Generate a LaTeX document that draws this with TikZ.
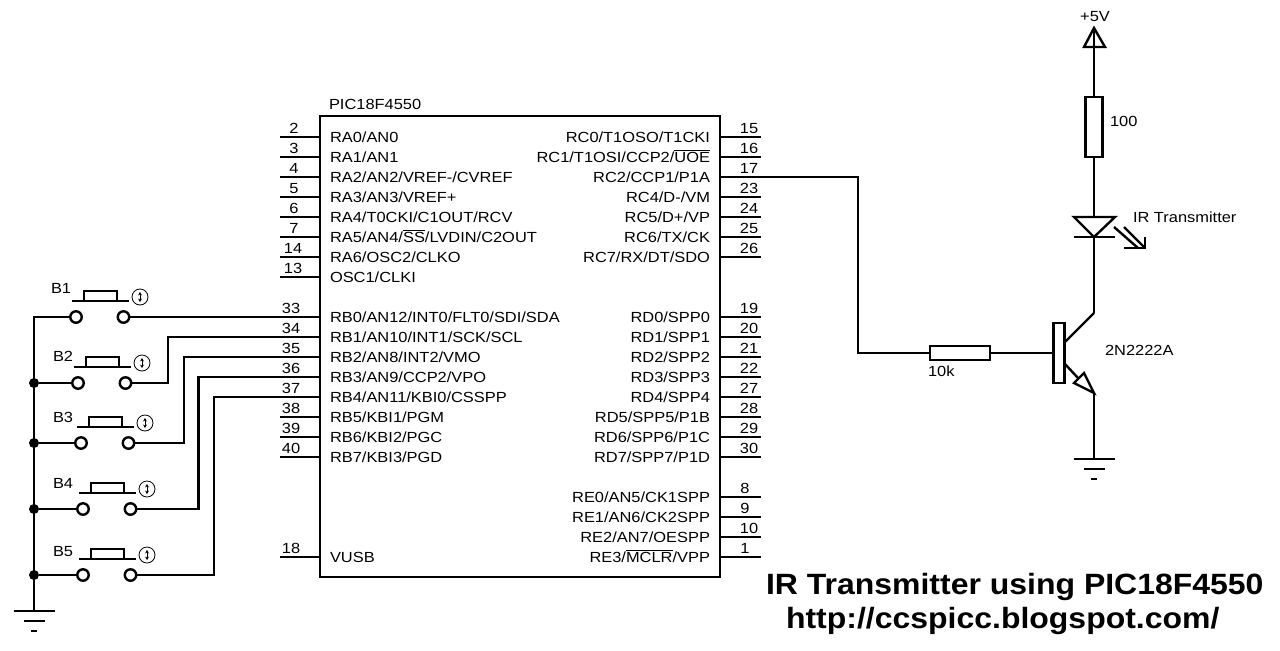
\documentclass[tikz,border=0pt]{standalone}
\usepackage{fontspec}
\setmainfont[FakeStretch=1.12]{Liberation Sans}
\newfontfamily\titlefont[FakeStretch=1.09]{Liberation Sans}
\usetikzlibrary{calc,arrows.meta}
\def\ovl#1{\setbox0\hbox{#1}\rlap{\vrule width\wd0 height 8.8pt depth -8.3pt}\box0}
\tikzset{
  wire/.style={line width=1.8pt,line join=miter},
  lbl/.style={inner sep=0pt,outer sep=0pt,font=\fontsize{11pt}{12pt}\selectfont},
  pinno/.style={lbl,anchor=base},
  pinl/.style={lbl,anchor=base west},
  pinr/.style={lbl,anchor=base east},
  box/.style={draw,line width=1.8pt,fill=white,inner sep=0pt,outer sep=0pt,rectangle},
  term/.style={draw,line width=1.8pt,fill=white,circle,inner sep=0pt,outer sep=0pt,minimum size=8.6pt},
  ind/.style={draw,line width=0.6pt,fill=white,circle,inner sep=0pt,outer sep=0pt,minimum size=12pt},
  dot/.style={fill=black,circle,inner sep=0pt,outer sep=0pt,minimum size=7.5pt},
  titletxt/.style={inner sep=0pt,outer sep=0pt,anchor=base west,font=\titlefont\bfseries\fontsize{22pt}{24pt}\selectfont}
}
\newcommand\lpin[4]{%
  \coordinate (a#1) at (280,#2);
  \coordinate (A#1) at (320,#2);
  \draw[wire] (a#1) -- (A#1);
  \node[pinno] (na#1) at (#4,#2-4) {#1};
  \node[pinl] (la#1) at (330,#2+5) {#3};
}
\newcommand\rpin[4]{%
  \coordinate (a#1) at (761,#2);
  \coordinate (A#1) at (720,#2);
  \draw[wire] (A#1) -- (a#1);
  \node[pinno] (na#1) at (#4,#2-4) {#1};
  \node[pinr] (la#1) at (710,#2+5) {#3};
}
\newcommand\gnd[3]{%
  \coordinate (#1) at (#2,#3);
  \draw[wire] (#2-20.5,#3) -- (#2+20.5,#3);
  \draw[wire] (#2-10.5,#3+10) -- (#2+10.5,#3+10);
  \draw[wire] (#2-3,#3+20) -- (#2+3,#3+20);
}
\newcommand\btn[3]{% name, x of left terminal, y
  \node[term] (#1l) at (#2,#3) {};
  \node[term] (#1r) at (#2+47.5,#3) {};
  \coordinate (#1bl) at (#2-4,#3-16);
  \coordinate (#1br) at (#2+53,#3-16);
  \draw[wire] (#1bl) -- (#1br);
  \draw[wire] (#2+8,#3-16) -- (#2+8,#3-26) -- (#2+41,#3-26) -- (#2+41,#3-16);
  \node[ind] (#1i) at (#2+64,#3-20) {};
  \draw[line width=0.6pt,<->,>={Stealth[length=2.6pt,width=3pt]}] ($(#1i)+(0,-5)$) -- ($(#1i)+(0,5)$);
}
\begin{document}
\begin{tikzpicture}[x=0.75pt,y=-0.75pt]
\useasboundingbox[fill=white] (0,0) rectangle (1280,650);
% IC
\node[box,minimum width=300pt,minimum height=345.75pt,fill=none] (ic) at (520,346.5) {};
\node[lbl,anchor=base west] (icname) at (329,109) {PIC18F4550};
% left pins
\lpin{2}{137}{RA0/AN0}{294}
\lpin{3}{157}{RA1/AN1}{294}
\lpin{4}{177}{RA2/AN2/VREF-/CVREF}{294}
\lpin{5}{197}{RA3/AN3/VREF+}{294}
\lpin{6}{217}{RA4/T0CKI/C1OUT/RCV}{294}
\lpin{7}{237}{RA5/AN4/\ovl{SS}/LVDIN/C2OUT}{294}
\lpin{14}{257}{RA6/OSC2/CLKO}{293}
\lpin{13}{277}{OSC1/CLKI}{293}
\lpin{33}{317}{RB0/AN12/INT0/FLT0/SDI/SDA}{291}
\lpin{34}{337}{RB1/AN10/INT1/SCK/SCL}{291}
\lpin{35}{357}{RB2/AN8/INT2/VMO}{291}
\lpin{36}{377}{RB3/AN9/CCP2/VPO}{291}
\lpin{37}{397}{RB4/AN11/KBI0/CSSPP}{291}
\lpin{38}{417}{RB5/KBI1/PGM}{291}
\lpin{39}{437}{RB6/KBI2/PGC}{291}
\lpin{40}{457}{RB7/KBI3/PGD}{291}
\lpin{18}{557}{VUSB}{291}
% right pins
\rpin{15}{137}{RC0/T1OSO/T1CKI}{749}
\rpin{16}{157}{RC1/T1OSI/CCP2/\ovl{UOE}}{749}
\rpin{17}{177}{RC2/CCP1/P1A}{749}
\rpin{23}{197}{RC4/D-/VM}{749}
\rpin{24}{217}{RC5/D+/VP}{749}
\rpin{25}{237}{RC6/TX/CK}{749}
\rpin{26}{257}{RC7/RX/DT/SDO}{749}
\rpin{19}{317}{RD0/SPP0}{749}
\rpin{20}{337}{RD1/SPP1}{749}
\rpin{21}{357}{RD2/SPP2}{749}
\rpin{22}{377}{RD3/SPP3}{749}
\rpin{27}{397}{RD4/SPP4}{749}
\rpin{28}{417}{RD5/SPP5/P1B}{749}
\rpin{29}{437}{RD6/SPP6/P1C}{749}
\rpin{30}{457}{RD7/SPP7/P1D}{749}
\rpin{8}{497}{RE0/AN5/CK1SPP}{745}
\rpin{9}{517}{RE1/AN6/CK2SPP}{745}
\rpin{10}{537}{RE2/AN7/OESPP}{749}
\rpin{1}{557}{RE3/\ovl{MCLR}/VPP}{745}
% buttons
\btn{B1}{76}{317}
\btn{B2}{78}{383}
\btn{B3}{81}{443}
\btn{B4}{83}{509}
\btn{B5}{83}{575}
\node[pinl] (tB1) at (51,293) {B1};
\node[pinl] (tB2) at (53,361) {B2};
\node[pinl] (tB3) at (53,422) {B3};
\node[pinl] (tB4) at (53,488) {B4};
\node[pinl] (tB5) at (53,556) {B5};
% ground rail
\gnd{G1}{34}{611}
\coordinate (rail) at (34,317);
\draw[wire] (B1l) -- (rail) -- (G1);
\foreach \b/\y in {B2/383,B3/443,B4/509,B5/575}{
  \node[dot] (J\b) at (34,\y) {};
  \draw[wire] (J\b) -- (\b l);
}
% wires to the port
\draw[wire] (B1r) -- (A33);
\draw[wire] (B2r) -| (168,337) -- (A34);
\draw[wire] (B3r) -| (184,357) -- (A35);
\draw[wire] (B4r) -| (198.5,377) -- (A36);
\draw[wire] (B5r) -| (214,397) -- (A37);
% base resistor
\node[box,minimum width=45pt,minimum height=10.5pt] (R1) at (960,353) {};
\node[pinl] (R1v) at (928,376) {10k};
\coordinate (bend) at (858,353);
\draw[wire] (a17) -- (858,177) -- (bend) -- (R1);
% transistor
\node[box,minimum width=8.5pt,minimum height=45pt] (Q) at (1059,353) {};
\coordinate (Qc) at (1094,313);
\coordinate (Qe) at (1094,393);
\draw[wire] (R1) -- (Q);
\draw[wire] (1065,342) -- (Qc);
\draw[wire] (1065,364) -- (1078,378);
\draw[wire] (Qe) -- (1084,373) -- (1074,383) -- cycle;
\node[pinl] (Qv) at (1105,355) {2N2222A};
\gnd{G2}{1094}{459}
\draw[wire] (Qe) -- (G2);
% supply
\coordinate (Vcc) at (1094,28);
\draw[wire] (Vcc) -- (1084,47) -- (1105,47) -- cycle;
\node[lbl,anchor=base] (Vt) at (1095,21) {+5V};
\node[box,minimum width=12.5pt,minimum height=45pt] (R2) at (1094,127) {};
\node[pinl] (R2v) at (1110,126) {100};
\draw[wire] (Vcc) -- (R2);
% LED
\coordinate (La) at (1094,217);
\coordinate (Lk) at (1094,237);
\draw[wire] (R2) -- (La);
\draw[wire] (1074,217) -- (1115,217) -- (Lk) -- cycle;
\draw[wire] (1074,237) -- (1115,237);
\draw[wire] (Lk) -- (Qc);
\draw[wire] (1114,227) -- (1138,248);
\draw[wire] (1124,227) -- (1145,248);
\draw[wire] (1124,248) -- (1145,248) -- (1145,237);
\node[pinl] (Lt) at (1133,222) {IR Transmitter};
% title
\node[titletxt] (T1) at (766,594) {IR Transmitter using PIC18F4550};
\node[titletxt] (T2) at (786,628) {http://ccspicc.blogspot.com/};
\end{tikzpicture}
\end{document}
